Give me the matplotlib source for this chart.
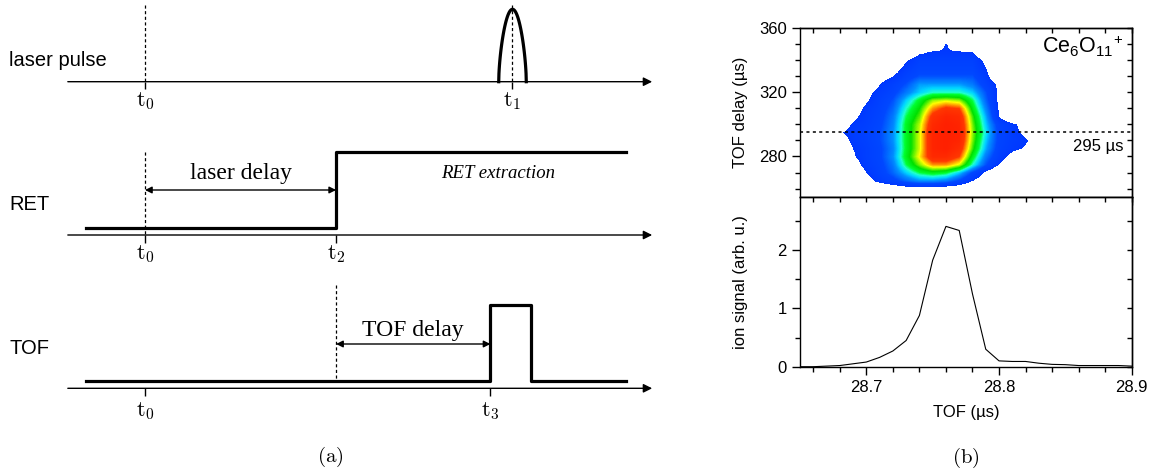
import numpy as np
import matplotlib
matplotlib.use("Agg")
import matplotlib.pyplot as plt
from matplotlib.colors import LinearSegmentedColormap
from matplotlib.ticker import MultipleLocator

plt.rcParams["font.family"] = ["Liberation Sans", "DejaVu Sans"]
plt.rcParams["mathtext.fontset"] = "custom"
plt.rcParams["mathtext.rm"] = "Liberation Sans"
plt.rcParams["mathtext.it"] = "Liberation Sans:italic"
plt.rcParams["mathtext.bf"] = "Liberation Sans:bold"

# ---- data: ion signal at 295 us TOF delay ----
tof = [28.65, 28.66, 28.67, 28.68, 28.69, 28.70, 28.71, 28.72, 28.73, 28.74,
       28.75, 28.76, 28.77, 28.78, 28.79, 28.80, 28.81, 28.82, 28.83, 28.84,
       28.85, 28.86, 28.87, 28.88, 28.89, 28.90]
ion_signal = [0.0, 0.0, 0.01, 0.02, 0.05, 0.08, 0.16, 0.27, 0.45, 0.88,
              1.83, 2.41, 2.34, 1.25, 0.30, 0.10, 0.09, 0.09, 0.06, 0.04,
              0.035, 0.02, 0.02, 0.02, 0.02, 0.01]

# ---- data: 2D map (colour level) ----
heat_tof = [28.67, 28.68, 28.69, 28.70, 28.71, 28.72, 28.73, 28.74, 28.75,
            28.76, 28.77, 28.78, 28.79, 28.80, 28.81, 28.82, 28.83, 28.84]
heat_delay = [255, 260, 265, 270, 275, 280, 285, 290, 295, 300, 305,
              310, 315, 320, 325, 330, 335, 340, 345, 350, 355]
heat_level = [
    [0, 0, 0, 0, 0, 0, 0, 0, 0, 0, 0, 0, 0, 0, 0, 0, 0, 0],
    [0, 0, 0, 0, 0, 0.3, 0.5, 0.5, 0.5, 0.4, 0.3, 0, 0, 0, 0, 0, 0, 0],
    [0, 0, 0, 0.6, 1.3, 1.7, 2.2, 2.6, 2.6, 2.4, 1.8, 1.0, 0.4, 0, 0, 0, 0, 0],
    [0, 0, 0, 1.0, 1.6, 2.2, 3.0, 3.7, 4.0, 3.8, 3.0, 1.8, 0.8, 0, 0, 0, 0, 0],
    [0, 0, 0.6, 1.3, 1.7, 2.4, 3.7, 4.7, 5.6, 5.6, 5.0, 3.4, 2.0, 1.0, 0, 0, 0, 0],
    [0, 0, 0.9, 1.4, 1.8, 2.6, 4.0, 5.2, 6.6, 6.6, 6.0, 4.0, 2.4, 1.4, 0.7, 0, 0, 0],
    [0, 0, 1.0, 1.4, 1.8, 2.5, 3.9, 5.0, 6.8, 7.0, 6.5, 4.5, 2.8, 1.6, 1.2, 0.9, 0.4, 0],
    [0, 0.5, 1.2, 1.5, 1.9, 2.6, 3.9, 5.0, 6.8, 7.0, 6.8, 4.7, 3.0, 1.7, 1.3, 1.1, 0.5, 0],
    [0, 0.9, 1.3, 1.5, 1.9, 2.6, 3.9, 5.0, 6.8, 7.0, 6.9, 4.8, 3.2, 1.7, 1.3, 0.8, 0, 0],
    [0, 0.5, 1.1, 1.4, 1.8, 2.5, 3.9, 4.9, 6.6, 7.0, 6.8, 4.7, 3.0, 1.6, 1.2, 0.6, 0, 0],
    [0, 0, 0.8, 1.3, 1.7, 2.4, 3.7, 4.6, 6.3, 6.8, 6.6, 4.5, 2.8, 1.0, 0, 0, 0, 0],
    [0, 0, 0.5, 1.2, 1.6, 2.2, 3.4, 4.3, 5.6, 6.2, 6.0, 4.1, 2.5, 0.9, 0, 0, 0, 0],
    [0, 0, 0, 0.9, 1.5, 2.0, 3.0, 3.9, 4.8, 5.0, 4.8, 3.7, 2.2, 0.8, 0, 0, 0, 0],
    [0, 0, 0, 0.7, 1.3, 1.7, 2.4, 3.0, 3.4, 3.4, 3.4, 3.0, 2.0, 0.8, 0, 0, 0, 0],
    [0, 0, 0, 0, 1.0, 1.5, 2.0, 2.7, 2.7, 2.7, 2.7, 2.4, 1.6, 0.8, 0, 0, 0, 0],
    [0, 0, 0, 0, 0.6, 1.0, 1.6, 2.0, 2.0, 2.0, 2.0, 2.0, 1.3, 0, 0, 0, 0, 0],
    [0, 0, 0, 0, 0, 0.5, 1.3, 1.7, 1.7, 1.7, 1.7, 1.7, 1.0, 0, 0, 0, 0, 0],
    [0, 0, 0, 0, 0, 0, 0.9, 1.5, 1.5, 1.5, 1.5, 1.5, 0.8, 0, 0, 0, 0, 0],
    [0, 0, 0, 0, 0, 0, 0, 0.8, 1.1, 1.1, 1.1, 1.0, 0, 0, 0, 0, 0, 0],
    [0, 0, 0, 0, 0, 0, 0, 0, 0, 1.1, 0, 0, 0, 0, 0, 0, 0, 0],
    [0, 0, 0, 0, 0, 0, 0, 0, 0, 0, 0, 0, 0, 0, 0, 0, 0, 0],
]
cut_delay = 295

# ---- timing diagram (arbitrary time units) ----
t_marks = {"t0": 0, "t1": 100, "t2": 52, "t3": 94}
tof_gate_end = 105
signal_span = (-16, 131)
axis_span = (-21, 138)
pulse_halfwidth = 3.75

fig = plt.figure(figsize=(11.54, 4.70), dpi=100)

# ================= left: timing diagram =================
px0 = 145.0
px_per_t = 3.675
axd = fig.add_axes([0, 0, 660 / 1154, 1])
axd.set_xlim(-px0 / px_per_t, (660 - px0) / px_per_t)
axd.set_ylim(470, 0)
axd.axis("off")

row_base = {"laser": 81.7, "RET": 235.0, "TOF": 388.3}
low, high = 7.3, 83.5
tick_len = 7.5
sig_lw = 2.3
dash = (0, (2.5, 2.0))

for name, base in row_base.items():
    axd.annotate("", xy=(axis_span[1], base), xytext=(axis_span[0], base),
                 arrowprops=dict(arrowstyle="-|>", lw=1.0, color="black",
                                 mutation_scale=13, shrinkA=0, shrinkB=0))

def t_label(key, base, off):
    axd.vlines(t_marks[key], base, base + tick_len, color="black", lw=1.0)
    axd.text(t_marks[key], base + off, r"$\mathrm{t}_%s$" % key[1],
             math_fontfamily="cm", fontsize=16, ha="center", va="center")

# laser pulse row
b = row_base["laser"]
axd.text(-37, b - 21, "laser pulse", fontsize=14.5, ha="left", va="center")
tt = np.linspace(-pulse_halfwidth, pulse_halfwidth, 121)
axd.plot(t_marks["t1"] + tt,
         b - 72.4 * np.cos(np.pi * tt / (2 * pulse_halfwidth)) ** 0.6,
         color="black", lw=sig_lw)
axd.vlines([t_marks["t0"], t_marks["t1"]], b - 76.7, b, color="black",
           lw=0.9, linestyles=[dash])
t_label("t0", b, 19)
t_label("t1", b, 19)

# RET row
b = row_base["RET"]
axd.text(-37, b - 30, "RET", fontsize=14.5, ha="left", va="center")
axd.plot([signal_span[0], t_marks["t2"], t_marks["t2"], signal_span[1]],
         [b - low, b - low, b - high, b - high], color="black", lw=sig_lw)
axd.vlines(t_marks["t0"], b - high, b, color="black", lw=0.9, linestyles=[dash])
axd.annotate("", xy=(t_marks["t2"], b - 45), xytext=(t_marks["t0"], b - 45),
             arrowprops=dict(arrowstyle="<|-|>", lw=1.0, color="black",
                             mutation_scale=10, shrinkA=0, shrinkB=0))
axd.text((t_marks["t0"] + t_marks["t2"]) / 2, b - 62, "laser delay",
         family="Liberation Serif", fontsize=17, ha="center", va="center")
axd.text(96, b - 62, "RET extraction", family="Liberation Serif",
         style="italic", fontsize=13.5, ha="center", va="center")
t_label("t0", b, 19)
t_label("t2", b, 19)

# TOF row
b = row_base["TOF"]
axd.text(-37, b - 40, "TOF", fontsize=14.5, ha="left", va="center")
axd.plot([signal_span[0], t_marks["t3"], t_marks["t3"], tof_gate_end,
          tof_gate_end, signal_span[1]],
         [b - low, b - low, b - high, b - high, b - low, b - low],
         color="black", lw=sig_lw)
axd.vlines(t_marks["t2"], b - 103.3, b - low, color="black", lw=0.9,
           linestyles=[dash])
axd.annotate("", xy=(t_marks["t3"], b - 44.3), xytext=(t_marks["t2"], b - 44.3),
             arrowprops=dict(arrowstyle="<|-|>", lw=1.0, color="black",
                             mutation_scale=10, shrinkA=0, shrinkB=0))
axd.text((t_marks["t2"] + t_marks["t3"]) / 2, b - 58, "TOF delay",
         family="Liberation Serif", fontsize=17, ha="center", va="center")
t_label("t0", b, 23)
t_label("t3", b, 23)

axd.text(t_marks["t0"] + (330 - px0) / px_per_t, 457, r"$\mathrm{(a)}$",
         math_fontfamily="cm", fontsize=15, ha="center", va="center")

# ================= right: map + signal =================
W = 1154.0
H = 470.0
left, right = 800.0, 1131.7
top1, mid, bot2 = 27.7, 196.7, 366.7
ax1 = fig.add_axes([left / W, (H - mid) / H, (right - left) / W, (mid - top1) / H])
ax2 = fig.add_axes([left / W, (H - bot2) / H, (right - left) / W, (bot2 - mid) / H])

cmap = LinearSegmentedColormap.from_list("origin_rainbow", [
    (0.00, "#0038ff"), (0.15, "#0048ff"), (0.27, "#0090ff"),
    (0.34, "#00d8ff"), (0.40, "#20ffd0"), (0.46, "#00ff30"),
    (0.55, "#00e000"), (0.63, "#90f800"), (0.69, "#ffff00"),
    (0.76, "#ffa000"), (0.84, "#ff3800"), (1.00, "#ff2000")])
cmap.set_under((1, 1, 1, 0))

dx = (heat_tof[1] - heat_tof[0]) / 2
dy = (heat_delay[1] - heat_delay[0]) / 2
ax1.imshow(np.array(heat_level), origin="lower", aspect="auto",
           extent=[heat_tof[0] - dx, heat_tof[-1] + dx,
                   heat_delay[0] - dy, heat_delay[-1] + dy],
           cmap=cmap, vmin=1, vmax=7, interpolation="bilinear",
           interpolation_stage="data")
ax1.axhline(cut_delay, color="black", lw=1.1, ls=(0, (2, 2.2)))
ax1.set_xlim(28.65, 28.9)
ax1.set_ylim(255, 360)
ax1.set_ylabel("TOF delay (µs)", fontsize=12)
ax1.yaxis.set_label_coords(-0.157, 0.5)
ax1.text(0.974, 0.8485, r"Ce$_{6}$O$_{11}$$^{+}$", transform=ax1.transAxes,
         fontsize=15.5, ha="right", va="baseline")
ax1.text(0.974, 286, "295 µs", transform=ax1.get_yaxis_transform(),
         fontsize=12, ha="right", va="center")

ax2.plot(tof, ion_signal, color="black", lw=0.8)
ax2.set_xlim(28.65, 28.9)
ax2.set_ylim(0, 2.92)
ax2.set_xlabel("TOF (µs)", fontsize=12)
ax2.xaxis.set_label_coords(0.5, -0.225)
ax2.set_ylabel("ion signal (arb. u.)", fontsize=12)
ax2.yaxis.set_label_coords(-0.157, 0.5)
ax2.text(0.5, -0.535, r"$\mathrm{(b)}$", transform=ax2.transAxes,
         math_fontfamily="cm", fontsize=15, ha="center", va="center")

for ax, ymaj, ymin in [(ax1, 40, 10), (ax2, 1, 0.5)]:
    ax.xaxis.set_major_locator(MultipleLocator(0.1))
    ax.xaxis.set_minor_locator(MultipleLocator(0.02))
    ax.yaxis.set_major_locator(MultipleLocator(ymaj))
    ax.yaxis.set_minor_locator(MultipleLocator(ymin))
    ax.tick_params(which="major", direction="out", length=6, width=1,
                   labelsize=12)
    ax.tick_params(which="minor", direction="out", length=3.5, width=1)
    for s in ax.spines.values():
        s.set_linewidth(1.0)
    sx = ax.secondary_xaxis("top")
    sy = ax.secondary_yaxis("right")
    sx.xaxis.set_major_locator(MultipleLocator(0.1))
    sx.xaxis.set_minor_locator(MultipleLocator(0.02))
    sy.yaxis.set_major_locator(MultipleLocator(ymaj))
    sy.yaxis.set_minor_locator(MultipleLocator(ymin))
    for sa in (sx, sy):
        sa.tick_params(which="both", direction="in", length=3.5, width=1,
                       labeltop=False, labelright=False)
        for s in sa.spines.values():
            s.set_linewidth(1.0)

ax1.tick_params(axis="x", labelbottom=False)

fig.savefig("out.png", dpi=100)
